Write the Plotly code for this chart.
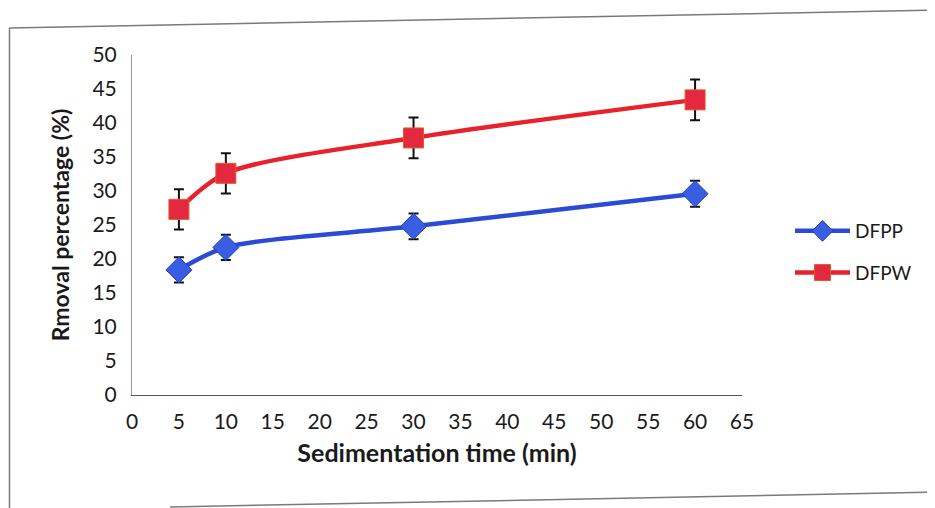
import plotly.graph_objects as go

time_min = [5, 10, 30, 60]
dfpp = [18.4, 21.7, 24.8, 29.6]
dfpp_err = [1.85, 1.85, 1.9, 1.9]
dfpw = [27.3, 32.6, 37.8, 43.4]
dfpw_err = [2.95, 2.95, 3.0, 3.0]
x_ticks = list(range(0, 70, 5))
y_ticks = list(range(0, 55, 5))

W, H = 935, 508
OFF = 8  # page offset of the figure in the screenshot
# target plot area in screenshot pixels
PL, PR, PT, PB = 132, 742, 55, 395
L, T = PL - OFF, PT - OFF
R, B = W - (PR - OFF), H - (PB - OFF)
pw, ph = PR - PL, PB - PT

def px(x):
    return (x - PL) / pw

def py(y):
    return (PB - y) / ph

FONT = "Lato"

fig = go.Figure()
fig.add_trace(go.Scatter(
    x=time_min, y=dfpp, name="DFPP", mode="lines+markers",
    line=dict(color="#2B4BD6", width=4.5, shape="spline", smoothing=0.8),
    marker=dict(symbol="diamond", size=20, color="#3A5EE2",
                line=dict(color="#2440B8", width=1)),
    error_y=dict(type="data", array=dfpp_err, visible=True,
                 color="#111111", thickness=2, width=5),
    legendgroup="a",
))
fig.add_trace(go.Scatter(
    x=time_min, y=dfpw, name="DFPW", mode="lines+markers",
    line=dict(color="#E8222C", width=4.5, shape="spline", smoothing=0.8),
    marker=dict(symbol="square", size=20, color="#E32840",
                line=dict(color="#E05A2A", width=1)),
    error_y=dict(type="data", array=dfpw_err, visible=True,
                 color="#111111", thickness=2, width=5),
    legendgroup="b",
))

border = dict(color="#7a7a7a", width=1.5)
shapes = [
    dict(type="line", xref="paper", yref="paper", x0=px(9.5), y0=py(28), x1=px(940), y1=py(10), line=border),
    dict(type="line", xref="paper", yref="paper", x0=px(9.5), y0=py(28), x1=px(9.5), y1=py(515), line=border),
    dict(type="line", xref="paper", yref="paper", x0=px(170), y0=py(507), x1=px(940), y1=py(492), line=border),
]

fig.update_layout(
    width=W, height=H,
    margin=dict(l=L, r=R, t=T, b=B),
    paper_bgcolor="white", plot_bgcolor="white",
    font=dict(family=FONT, size=21, color="#1a1a1a"),
    showlegend=True,
    legend=dict(x=px(790), y=py(212), xanchor="left", yanchor="top",
                font=dict(size=19, family=FONT), tracegroupgap=14,
                itemwidth=55,
                bgcolor="rgba(0,0,0,0)"),
    shapes=shapes,
    xaxis=dict(range=[0, 65], tickvals=x_ticks, ticktext=[str(v) for v in x_ticks],
               showgrid=False, zeroline=False, showline=True, linecolor="#555555",
               linewidth=1.2, ticks="", ticklabelstandoff=8,
               tickfont=dict(size=21, family=FONT),
               title=dict(text="<b>Sedimentation time (min)</b>", standoff=12,
                          font=dict(size=25, family=FONT))),
    yaxis=dict(range=[0, 50], tickvals=y_ticks, ticktext=[str(v) for v in y_ticks],
               showgrid=False, zeroline=False, showline=True, linecolor="#999999",
               linewidth=1, ticks="", ticklabelstandoff=10,
               tickfont=dict(size=21, family=FONT),
               title=dict(text="<b>Rmoval percentage (%)</b>", standoff=16,
                          font=dict(size=23, family=FONT))),
)

fig.write_html("out.html")
